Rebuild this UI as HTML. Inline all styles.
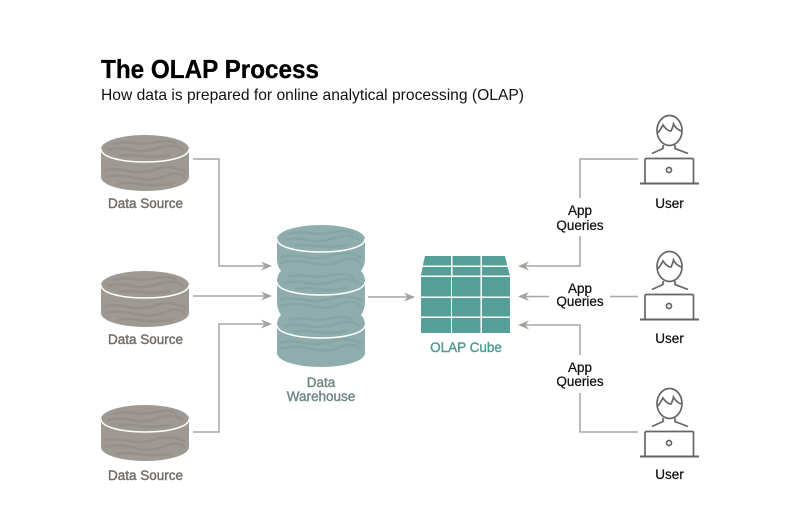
<!DOCTYPE html>
<html><head><meta charset="utf-8"><style>html,body{margin:0;padding:0;background:#fff}svg{display:block}text{font-family:"Liberation Sans",sans-serif}</style></head>
<body>
<svg width="800" height="506" viewBox="0 0 800 506" xmlns="http://www.w3.org/2000/svg">
<defs>
<g id="wavesG" fill="none" stroke="#96908b" stroke-width="2.500">
<path d="M12 9 Q22 6 32 8 T56 7 T76 9"/><path d="M6 15 Q18 12 30 15 T58 13 T82 15"/><path d="M18 21 Q28 19 40 21 T70 20"/>
<path d="M3 35 Q14 33 28 36 T56 34 T85 37"/><path d="M4 42 Q18 39 34 43 T64 41 T84 43"/><path d="M16 49 Q26 47 38 49 T72 49"/>
</g>
<g id="src">
<path d="M0 14C0 6 20 0 44 0S88 6 88 14V42C88 50 68 56 44 56S0 50 0 42Z" fill="#9f9994"/>
<use href="#wavesG"/>
<path d="M0 14C0 22 20 27 44 27S88 22 88 14" fill="none" stroke="#fff" stroke-width="1.5"/>
</g>
<g id="wavesT" fill="none" stroke="#86a6a5" stroke-width="2.500">
<path d="M12 9 Q22 6 32 8 T56 7 T76 9"/><path d="M6 15 Q18 12 30 15 T58 13 T82 15"/><path d="M18 21 Q28 19 40 21 T70 20"/>
<path d="M3 32 Q14 29 28 32 T56 30 T85 33"/><path d="M4 38 Q18 34 34 38 T64 36 T84 39"/>
</g>
<g id="usr" fill="none" stroke="#666" stroke-width="1.700">
<ellipse cx="669.500" cy="130.500" rx="12.500" ry="15"/>
<path d="M658 133C660 130 662 127 663 125C665 128 668 131 671 131C672 129 673 127 673.500 124C675 127 678 130 681.500 131"/>
<path d="M663 145V148.500L652 153.500M675 145V148.500L688 153.500"/>
<path d="M645 183V160Q645 158.500 646.500 158.500H692Q693.500 158.500 693.500 160V183"/>
<path d="M640 183.500H699" stroke-width="1.900"/>
<circle cx="669" cy="170" r="2.500"/>
</g>
<path id="ah" d="M0 0L-11 -4.500L-7.500 0L-11 4.500Z" fill="#a3a09d"/>
</defs>

<text x="101" y="78" font-size="26" font-weight="700" fill="#000" stroke="#000" stroke-width=".3" textLength="218" lengthAdjust="spacingAndGlyphs">The OLAP Process</text>
<text x="101" y="100" font-size="16" fill="#111" textLength="423" lengthAdjust="spacingAndGlyphs">How data is prepared for online analytical processing (OLAP)</text>

<use href="#src" x="101" y="135"/>
<use href="#src" x="101" y="271"/>
<use href="#src" x="101" y="405"/>

<path d="M277 239C277 231 297 225 321 225S365 231 365 239V258C365 263 364 267 361 271C364 274 365 278 365 282V301C365 306 364 311 361 315C364 318 365 322 365 325V353C365 361 345 367 321 367S277 361 277 353V325C277 322 278 318 281 315C278 311 277 306 277 301V282C277 278 278 274 281 271C278 267 277 263 277 258Z" fill="#8fadac"/>
<use href="#wavesT" x="277" y="225"/>
<use href="#wavesT" x="277" y="268"/>
<use href="#wavesT" x="277" y="311"/>
<g fill="none" stroke="#fff" stroke-width="1.5">
<path d="M277 239C277 247 297 252 321 252S365 247 365 239"/>
<path d="M277 282C277 290 297 295 321 295S365 290 365 282"/>
<path d="M277 325C277 333 297 338 321 338S365 333 365 325"/>
</g>

<g fill="#569f98">
<path d="M425 256H451V265.500H422.800Z"/><path d="M452.500 256H480.500V265.500H452.500Z"/><path d="M482 256H505L507.200 265.500H482Z"/>
<path d="M422.500 267H451V275.500H421Z"/><path d="M452.500 267H480.500V275.500H452.500Z"/><path d="M482 267H507.500L510 275.500H482Z"/>
<rect x="421" y="277" width="30" height="19.500"/><rect x="452" y="277" width="28.500" height="19.500"/><rect x="482" y="277" width="28" height="19.500"/>
<rect x="421" y="298" width="30" height="18.500"/><rect x="452" y="298" width="28.500" height="18.500"/><rect x="482" y="298" width="28" height="18.500"/>
<rect x="421" y="318" width="30" height="15"/><rect x="452" y="318" width="28.500" height="15"/><rect x="482" y="318" width="28" height="15"/>
</g>

<use href="#usr"/>
<use href="#usr" y="136"/>
<use href="#usr" y="273"/>

<g fill="none" stroke="#a8a5a2" stroke-width="1.500">
<path d="M193 159H219V266H264"/>
<path d="M193 296H264"/>
<path d="M193 432H219V324H264"/>
<path d="M368 297H408"/>
<path d="M638 159H580V198"/>
<path d="M580 236V266H526"/>
<path d="M638 296.500H610"/>
<path d="M549 296.500H526"/>
<path d="M638 432H580V393"/>
<path d="M580 355V325H526"/>
</g>
<use href="#ah" transform="translate(272 266)"/>
<use href="#ah" transform="translate(272 296)"/>
<use href="#ah" transform="translate(272 324)"/>
<use href="#ah" transform="translate(415 297)"/>
<use href="#ah" transform="translate(518 266) rotate(180)"/>
<use href="#ah" transform="translate(518 296.500) rotate(180)"/>
<use href="#ah" transform="translate(518 325) rotate(180)"/>

<g font-size="13.500" fill="#6f6b68" stroke="#6f6b68" stroke-width=".4" text-anchor="middle">
<text x="145.500" y="208">Data Source</text>
<text x="145.500" y="344">Data Source</text>
<text x="145.500" y="480">Data Source</text>
</g>
<g font-size="13.500" fill="#6f8785" stroke="#6f8785" stroke-width=".4" text-anchor="middle">
<text x="321" y="387">Data</text>
<text x="321" y="401">Warehouse</text>
</g>
<text x="466" y="352" font-size="13.500" fill="#4f9a93" stroke="#4f9a93" stroke-width=".4" text-anchor="middle">OLAP Cube</text>
<g font-size="13.500" fill="#111" stroke="#111" stroke-width=".25" text-anchor="middle">
<text x="669.500" y="208">User</text>
<text x="669.500" y="343">User</text>
<text x="669.500" y="479">User</text>
<text x="580" y="215">App</text>
<text x="580" y="230">Queries</text>
<text x="580" y="293">App</text>
<text x="580" y="306">Queries</text>
<text x="580" y="372">App</text>
<text x="580" y="386">Queries</text>
</g>
</svg>
</body></html>
